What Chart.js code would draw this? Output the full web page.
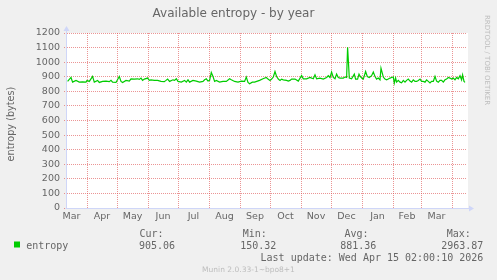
<!DOCTYPE html>
<html><head><meta charset="utf-8">
<script src="https://cdn.jsdelivr.net/npm/chart.js@4.4.1/dist/chart.umd.min.js"></script>
<style>html,body{margin:0;padding:0;background:#f0f0f0;}#wrap{width:497px;height:280px;position:relative;}</style>
</head><body><div id="wrap"><canvas id="c" width="497" height="280"></canvas></div>
<script>
// ---- data ----
const titleText = 'Available entropy - by year';
const yAxisTitle = 'entropy (bytes)';
const sideText = 'RRDTOOL / TOBI OETIKER';
const footerText = 'Munin 2.0.33-1~bpo8+1';
const seriesName = 'entropy';
const monthNames = ['Mar','Apr','May','Jun','Jul','Aug','Sep','Oct','Nov','Dec','Jan','Feb','Mar'];
// day offsets (from 12 Mar 2025) of the first day of each month, plus the next month
const monthStartDays = [-11, 20, 50, 81, 111, 142, 173, 203, 234, 264, 295, 326, 354, 385];
const rangeDays = [0, 400];
const yRange = [0, 1200];
const yStep = 100;
const statLabels = ['Cur:', 'Min:', 'Avg:', 'Max:'];
const statValues = ['905.06', '150.32', '881.36', '2963.87'];
const lastUpdate = 'Last update: Wed Apr 15 02:00:10 2026';

const entropyDays = [0.6,4,5.6,9,12.3,15.6,19,20,22.3,25.6,27.3,30.6,32.3,35.6,39,42.3,44,45.6,49,52.3,54,55.6,59,62.3,64,67.3,70.6,72.3,74,75.6,77.3,80.6,82.3,84,87.3,90.6,94,97.3,99,100.6,
102.6,106,107.6,109.3,111,114.3,117.6,119.3,121,122.6,126,129.3,132.6,136,137.6,139.3,141,142.6,144.3,146,147.6,149.3,152.6,156,159.3,162.6,164.3,167.6,171,174.3,177.6,179.3,181,182.6,185.3,187.6,192.6,196,199.3,201,
203,204.6,206.3,208,209.6,211.3,213,214.6,216.3,219.6,221.3,223,224.6,228,231.3,234.6,236.3,239.6,243,244.6,246.3,248,249.6,253,256.3,259.6,261.3,263,264.6,266.3,268,269.6,271.3,273,276.3,278,279.6,280.6,281.3,282.3,284.6,287.3,288.6,290.6,292,293.3,294.6,296.3,298.6,300.3,302.3,304.6,
306.3,308,309.6,311.3,313,314,315.3,316.3,318,319.6,321.3,323,324.6,326.3,327.3,328.6,329.6,331.3,333,334.6,336.3,338,339.6,341.3,343,344.6,346.3,348,349.6,351.3,353,354.6,356.3,358,359.6,361.3,363,364.6,366.3,368,369.6,371.3,373,374.6,376.3,378,379.6,381.3,383,384.6,386.3,388,389.6,391.3,393,394.6,395.6,397,398];
const entropyValues = [868,895,863,875,863,865,863,875,868,902,863,875,861,868,870,866,875,863,861,902,868,861,875,870,886,884,886,882,891,875,884,891,875,879,875,875,868,866,875,884,
868,879,875,886,868,863,875,863,879,863,875,870,863,868,879,886,870,875,929,902,868,875,863,868,868,886,879,868,863,870,868,898,861,852,863,863,875,886,895,884,
875,884,898,936,902,884,875,884,879,875,870,875,884,884,870,909,886,886,895,891,886,913,886,891,884,895,907,895,932,895,886,918,895,891,891,898,895,1102,1016,891,886,918,884,884,918,902,891,884,936,902,895,907,
932,902,884,891,879,959,925,898,884,879,884,891,895,898,857,891,863,875,863,859,875,863,875,884,870,863,879,868,868,875,884,868,868,863,879,868,857,868,868,902,870,863,875,875,863,879,884,895,891,884,891,879,895,886,907,879,913,868,861];

// ---- derived tick positions ----
const monthMidDays = monthNames.map((_, i) => (monthStartDays[i] + monthStartDays[i + 1]) / 2);
const gridDays = monthStartDays.filter(d => d > rangeDays[0] && d < rangeDays[1]);

const AXIS = '#cfd6f8';
const GRID = 'rgba(222,79,79,0.6)';
const TXT = '#666666';

const decor = {
  id: 'decor',
  beforeDraw(chart) {
    const {ctx, chartArea: a} = chart;
    ctx.save();
    ctx.fillStyle = '#f0f0f0';
    ctx.fillRect(0, 0, chart.width, chart.height);
    ctx.fillStyle = '#ffffff';
    ctx.fillRect(a.left, a.top, a.right - a.left + 1, a.bottom - a.top);
    ctx.restore();
  },
  afterDatasetsDraw(chart) {
    const {ctx, chartArea: a} = chart;
    ctx.save();
    ctx.strokeStyle = AXIS; ctx.fillStyle = AXIS; ctx.lineWidth = 1;
    const lx = a.left - 0.5, by = a.bottom + 0.5;
    ctx.beginPath(); ctx.moveTo(lx, by); ctx.lineTo(lx, a.top - 4); ctx.stroke();
    ctx.beginPath(); ctx.moveTo(lx - 1, by); ctx.lineTo(a.right + 4, by); ctx.stroke();
    ctx.beginPath(); ctx.moveTo(lx, a.top - 7); ctx.lineTo(lx - 3, a.top - 2); ctx.lineTo(lx + 3, a.top - 2); ctx.closePath(); ctx.fill();
    ctx.beginPath(); ctx.moveTo(a.right + 7, by); ctx.lineTo(a.right + 2, by - 3); ctx.lineTo(a.right + 2, by + 3); ctx.closePath(); ctx.fill();
    ctx.restore();
  },
  afterDraw(chart) {
    const {ctx} = chart;
    ctx.save();
    ctx.fillStyle = TXT;
    ctx.font = '9.7px "DejaVu Sans"';
    ctx.translate(11.5, 124);
    ctx.rotate(-Math.PI / 2);
    ctx.textAlign = 'center'; ctx.textBaseline = 'middle';
    ctx.fillText(yAxisTitle, 0, 0);
    ctx.restore();

    ctx.save();
    ctx.fillStyle = '#bdbdbd';
    ctx.font = '7px "DejaVu Sans"';
    ctx.translate(485, 15);
    ctx.rotate(Math.PI / 2);
    ctx.textAlign = 'left'; ctx.textBaseline = 'alphabetic';
    ctx.fillText(sideText, 0, 0);
    ctx.restore();

    ctx.save();
    ctx.font = '10px "DejaVu Sans Mono"';
    ctx.fillStyle = TXT;
    ctx.textBaseline = 'alphabetic';
    const labelX = [139.5, 242.7, 344.5, 446.8];
    const valueRight = [175, 276.3, 376.3, 483.3];
    ctx.textAlign = 'left';
    statLabels.forEach((t, i) => ctx.fillText(t, labelX[i], 236.7));
    ctx.textAlign = 'right';
    statValues.forEach((t, i) => ctx.fillText(t, valueRight[i], 249));
    ctx.fillText(lastUpdate, 483.3, 261);
    ctx.textAlign = 'left';
    ctx.fillText(seriesName, 26.2, 249);
    ctx.fillStyle = '#00cc00';
    ctx.fillRect(14, 241.5, 6, 6);
    ctx.fillStyle = '#bdbdbd';
    ctx.font = '7.5px "DejaVu Sans"';
    ctx.textAlign = 'center';
    ctx.fillText(footerText, 248.5, 271.5);
    ctx.restore();
  }
};

new Chart(document.getElementById('c'), {
  type: 'line',
  data: {
    datasets: [{
      label: seriesName,
      data: entropyDays.map((d, i) => ({x: d, y: entropyValues[i]})),
      borderColor: '#00cc00',
      borderWidth: 1.2,
      pointRadius: 0,
      fill: false,
      tension: 0,
      xAxisID: 'x',
      yAxisID: 'y'
    }]
  },
  options: {
    responsive: false,
    devicePixelRatio: 1,
    animation: false,
    events: [],
    layout: {padding: {left: 0, right: 30, top: 0, bottom: 0}},
    plugins: {
      legend: {display: false},
      tooltip: {enabled: false},
      title: {
        display: true, text: titleText, color: TXT,
        font: {family: 'DejaVu Sans', size: 12, weight: 'normal'},
        padding: {top: 7, bottom: 11.6}
      }
    },
    scales: {
      xg: {
        type: 'linear', position: 'bottom', min: rangeDays[0], max: rangeDays[1],
        afterBuildTicks: s => { s.ticks = gridDays.map(v => ({value: v})); },
        afterFit: s => { s.height = 0; },
        ticks: {display: false},
        grid: {color: GRID, lineWidth: 1, drawTicks: false},
        border: {display: false, dash: [1, 1]}
      },
      x: {
        type: 'linear', position: 'bottom', min: rangeDays[0], max: rangeDays[1],
        afterBuildTicks: s => { s.ticks = monthMidDays.map(v => ({value: v})); },
        afterFit: s => { s.height = 72; },
        ticks: {
          autoSkip: false, maxRotation: 0, minRotation: 0, padding: 3, color: TXT,
          font: {family: 'DejaVu Sans', size: 9.5},
          callback: (v, i) => monthNames[i]
        },
        grid: {display: false, drawTicks: false},
        border: {display: false}
      },
      y: {
        type: 'linear', position: 'left', min: yRange[0], max: yRange[1],
        afterFit: s => { s.width = 67; },
        ticks: {stepSize: yStep, padding: 4, color: TXT, font: {family: 'DejaVu Sans', size: 9.5},
          callback: v => String(v)},
        grid: {color: GRID, lineWidth: 1, drawTicks: true, tickLength: 3, tickColor: GRID, tickBorderDash: [1, 1]},
        border: {display: false, dash: [1, 1]}
      }
    }
  },
  plugins: [decor]
});
</script></body></html>
